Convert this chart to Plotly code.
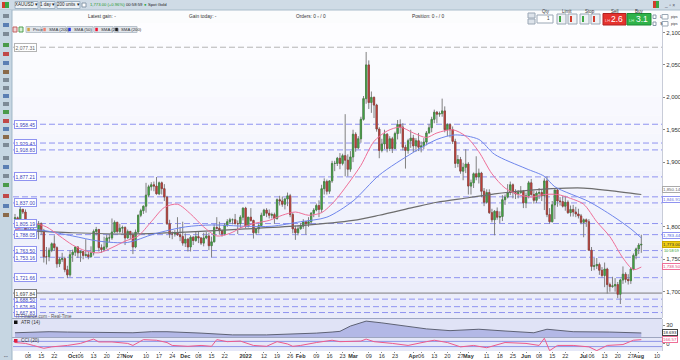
import pandas as pd
import plotly.graph_objects as go
from plotly.subplots import make_subplots

W, H = 680, 360
ML, MR, MT, MB = 13, 18, 23, 9
PW, PH = W - ML - MR, H - MT - MB
FONT = "Liberation Sans"


def px(x):
    return (x - ML) / PW


def py(y):
    return (H - MB - y) / PH


# ---------------- data ----------------
dates = pd.bdate_range("2021-09-01", "2022-08-02")

opens = [
    1813, 1814, 1809, 1827, 1823, 1794, 1788, 1795, 1787, 1794, 1805, 1794, 1754, 1754, 1764, 1774, 1768, 1743, 1750, 1751, 1734, 1726,
    1757, 1761, 1769, 1760, 1762, 1756, 1757, 1754, 1760, 1793, 1796, 1768, 1765, 1769, 1783, 1783, 1792, 1807, 1793, 1798, 1799,
    1783, 1793, 1788, 1769, 1792, 1818, 1825, 1832, 1849, 1862, 1865, 1863, 1851, 1868, 1859, 1846, 1805, 1789, 1789, 1791, 1788, 1785,
    1775, 1781, 1769, 1784, 1779, 1785, 1783, 1775, 1783, 1786, 1771, 1777, 1799, 1798, 1794, 1789, 1803, 1808, 1811, 1811, 1805, 1805, 1815,
    1829, 1801, 1815, 1810, 1791, 1797, 1802, 1818, 1826, 1821, 1818, 1819, 1813, 1842, 1840, 1835, 1843, 1848, 1819, 1797, 1791,
    1797, 1801, 1808, 1805, 1808, 1821, 1826, 1833, 1827, 1859, 1870, 1855, 1871, 1898, 1898, 1906, 1898, 1910, 1903, 1889,
    1908, 1943, 1922, 1936, 1966, 1998, 2050, 1992, 2000, 1988, 1951, 1918, 1928, 1943, 1921, 1936, 1921, 1944, 1958, 1954, 1923, 1918, 1933,
    1937, 1925, 1933, 1923, 1925, 1931, 1945, 1953, 1966, 1977, 1974, 1975, 1979, 1950, 1958, 1950, 1932, 1898, 1904, 1886, 1892,
    1897, 1863, 1868, 1882, 1877, 1883, 1855, 1838, 1853, 1822, 1811, 1824, 1815, 1816, 1842, 1846, 1853, 1865, 1853, 1851, 1853, 1855,
    1837, 1848, 1868, 1850, 1841, 1852, 1853, 1848, 1871, 1819, 1808, 1834, 1857, 1840, 1839, 1832, 1838, 1822, 1827, 1823, 1820, 1817,
    1807, 1811, 1808, 1764, 1739, 1740, 1742, 1733, 1725, 1735, 1711, 1708, 1709, 1711, 1696, 1718, 1727, 1719, 1717, 1735, 1756,
    1766, 1772,
]
highs = [
    1820, 1816, 1834, 1828, 1827, 1800, 1800, 1804, 1795, 1809, 1807, 1797, 1769, 1768, 1776, 1787, 1770, 1753, 1760, 1754, 1740, 1764,
    1765, 1770, 1770, 1764, 1763, 1781, 1762, 1770, 1796, 1800, 1797, 1773, 1785, 1788, 1789, 1813, 1810, 1808, 1805, 1802, 1801,
    1796, 1794, 1792, 1796, 1819, 1828, 1833, 1868, 1865, 1869, 1870, 1877, 1870, 1870, 1866, 1848, 1811, 1793, 1795, 1815, 1800, 1808,
    1790, 1783, 1787, 1786, 1792, 1793, 1784, 1791, 1792, 1791, 1785, 1804, 1815, 1808, 1796, 1806, 1812, 1814, 1813, 1820, 1810, 1818, 1830,
    1831, 1815, 1829, 1811, 1798, 1805, 1822, 1828, 1829, 1827, 1822, 1822, 1844, 1848, 1847, 1845, 1853, 1851, 1822, 1802, 1802,
    1806, 1812, 1809, 1815, 1823, 1829, 1836, 1841, 1865, 1875, 1873, 1872, 1902, 1902, 1908, 1914, 1913, 1974, 1912, 1917,
    1950, 1946, 1940, 1970, 2002, 2070, 2057, 2009, 2001, 1990, 1954, 1936, 1950, 1945, 1940, 1939, 1947, 1965, 1966, 1960, 1927, 1936, 1950,
    1942, 1937, 1945, 1932, 1937, 1948, 1959, 1970, 1981, 1979, 1978, 1998, 1986, 1960, 1960, 1955, 1936, 1911, 1908, 1899, 1920,
    1900, 1873, 1884, 1909, 1890, 1885, 1860, 1858, 1858, 1828, 1826, 1830, 1824, 1849, 1850, 1866, 1870, 1867, 1858, 1857, 1863, 1857,
    1853, 1871, 1874, 1856, 1855, 1860, 1858, 1875, 1878, 1829, 1840, 1857, 1860, 1846, 1847, 1848, 1841, 1833, 1834, 1831, 1828, 1820,
    1813, 1813, 1812, 1769, 1752, 1752, 1745, 1738, 1745, 1737, 1714, 1723, 1721, 1715, 1720, 1739, 1730, 1727, 1738, 1759, 1768,
    1775, 1788,
]
lows = [
    1808, 1805, 1806, 1820, 1791, 1782, 1786, 1785, 1782, 1781, 1788, 1745, 1742, 1747, 1761, 1763, 1737, 1738, 1746, 1730, 1721, 1723,
    1746, 1755, 1752, 1746, 1750, 1754, 1750, 1753, 1756, 1787, 1762, 1760, 1763, 1766, 1776, 1780, 1791, 1790, 1790, 1790, 1772,
    1782, 1781, 1758, 1767, 1790, 1815, 1820, 1822, 1846, 1856, 1855, 1850, 1849, 1850, 1840, 1803, 1783, 1781, 1785, 1786, 1778, 1771,
    1769, 1762, 1762, 1772, 1777, 1775, 1772, 1770, 1781, 1764, 1753, 1776, 1796, 1788, 1785, 1787, 1800, 1805, 1804, 1804, 1789, 1798, 1810,
    1798, 1799, 1808, 1782, 1788, 1790, 1800, 1817, 1815, 1813, 1813, 1805, 1811, 1833, 1831, 1827, 1832, 1815, 1790, 1780, 1787,
    1796, 1797, 1788, 1800, 1805, 1815, 1824, 1815, 1822, 1850, 1850, 1851, 1868, 1886, 1894, 1889, 1895, 1878, 1878, 1885,
    1900, 1916, 1920, 1930, 1964, 1990, 1982, 1976, 1968, 1947, 1906, 1915, 1920, 1915, 1917, 1914, 1920, 1935, 1944, 1918, 1890, 1913, 1922,
    1915, 1916, 1917, 1915, 1920, 1926, 1944, 1946, 1960, 1960, 1970, 1970, 1946, 1940, 1938, 1928, 1891, 1892, 1882, 1872, 1883,
    1850, 1850, 1860, 1872, 1867, 1846, 1832, 1836, 1820, 1807, 1787, 1811, 1806, 1809, 1834, 1844, 1849, 1844, 1843, 1844, 1851, 1829,
    1829, 1844, 1848, 1836, 1837, 1843, 1840, 1826, 1815, 1805, 1807, 1812, 1831, 1833, 1830, 1825, 1820, 1816, 1816, 1815, 1813, 1804,
    1784, 1800, 1764, 1732, 1733, 1735, 1726, 1722, 1707, 1697, 1700, 1706, 1700, 1690, 1681, 1712, 1714, 1711, 1712, 1733, 1750,
    1758, 1760,
]
closes = [
    1814, 1809, 1827, 1823, 1794, 1788, 1795, 1787, 1794, 1805, 1794, 1754, 1754, 1764, 1774, 1768, 1743, 1750, 1751, 1734, 1726, 1757,
    1761, 1769, 1760, 1762, 1756, 1757, 1754, 1760, 1793, 1796, 1768, 1765, 1769, 1783, 1783, 1792, 1807, 1793, 1798, 1799, 1783,
    1793, 1788, 1769, 1792, 1818, 1825, 1832, 1849, 1862, 1865, 1863, 1851, 1868, 1859, 1846, 1805, 1789, 1789, 1791, 1788, 1785, 1775,
    1781, 1769, 1784, 1779, 1785, 1783, 1775, 1783, 1786, 1771, 1777, 1799, 1798, 1794, 1789, 1803, 1808, 1811, 1811, 1805, 1805, 1815, 1829,
    1801, 1815, 1810, 1791, 1797, 1802, 1818, 1826, 1821, 1818, 1819, 1813, 1842, 1840, 1835, 1843, 1848, 1819, 1797, 1791, 1797,
    1801, 1808, 1805, 1808, 1821, 1826, 1833, 1827, 1859, 1870, 1855, 1871, 1898, 1898, 1906, 1898, 1910, 1903, 1889, 1908,
    1943, 1922, 1936, 1966, 1998, 2050, 1992, 2000, 1988, 1951, 1918, 1928, 1943, 1921, 1936, 1921, 1944, 1958, 1954, 1923, 1918, 1933, 1937,
    1925, 1933, 1923, 1925, 1931, 1945, 1953, 1966, 1977, 1974, 1975, 1979, 1950, 1958, 1950, 1932, 1898, 1904, 1886, 1892, 1897,
    1863, 1868, 1882, 1877, 1883, 1855, 1838, 1853, 1822, 1811, 1824, 1815, 1816, 1842, 1846, 1853, 1865, 1853, 1851, 1853, 1855, 1837,
    1848, 1868, 1850, 1841, 1852, 1853, 1848, 1871, 1819, 1808, 1834, 1857, 1840, 1839, 1832, 1838, 1822, 1827, 1823, 1820, 1817, 1807,
    1811, 1808, 1764, 1739, 1740, 1742, 1733, 1725, 1735, 1711, 1708, 1709, 1711, 1696, 1718, 1727, 1719, 1717, 1735, 1756, 1766,
    1772, 1773,
]
assert len(opens) == len(highs) == len(lows) == len(closes) == len(dates), (len(opens), len(highs), len(lows), len(closes), len(dates))

sma200_dates = ["2021-09-01", "2021-10-01", "2021-11-01", "2021-12-01", "2022-01-03", "2022-02-01", "2022-03-01", "2022-03-15",
                "2022-04-01", "2022-04-14", "2022-05-02", "2022-05-16", "2022-06-01", "2022-06-15", "2022-07-01", "2022-07-15", "2022-08-02"]
sma200_vals = [1795, 1791, 1789, 1792, 1797, 1802, 1810, 1818, 1830, 1838, 1845, 1851, 1856, 1859, 1860, 1856, 1850]

sma50_dates = ["2021-09-01", "2021-09-15", "2021-10-01", "2021-10-15", "2021-11-01", "2021-11-15", "2021-12-01", "2021-12-15",
               "2022-01-03", "2022-01-17", "2022-02-01", "2022-02-15", "2022-03-01", "2022-03-15", "2022-04-01", "2022-04-14",
               "2022-04-25", "2022-05-06", "2022-05-16", "2022-06-01", "2022-06-10", "2022-06-16", "2022-07-05", "2022-07-18",
               "2022-07-27", "2022-08-02"]
sma50_vals = [1797, 1795, 1786, 1778, 1776, 1789, 1800, 1803, 1801, 1801, 1808, 1815, 1840, 1880, 1915, 1935, 1942, 1935, 1912,
              1890, 1878, 1862, 1839, 1817, 1797, 1783]

sma20_dates = ["2021-09-01", "2021-09-10", "2021-09-17", "2021-09-24", "2021-10-01", "2021-10-08", "2021-10-15", "2021-10-22",
               "2021-10-29", "2021-11-05", "2021-11-12", "2021-11-19", "2021-11-26", "2021-12-03", "2021-12-10", "2021-12-17",
               "2021-12-24", "2021-12-31", "2022-01-07", "2022-01-14", "2022-01-21", "2022-01-28", "2022-02-04", "2022-02-11",
               "2022-02-18", "2022-02-25", "2022-03-04", "2022-03-11", "2022-03-18", "2022-03-25", "2022-04-01", "2022-04-08",
               "2022-04-14", "2022-04-22", "2022-04-29", "2022-05-06", "2022-05-13", "2022-05-20", "2022-05-27", "2022-06-03",
               "2022-06-10", "2022-06-17", "2022-06-24", "2022-07-01", "2022-07-08", "2022-07-15", "2022-07-22", "2022-07-28",
               "2022-08-02"]
sma20_vals = [1795, 1805, 1800, 1786, 1772, 1763, 1760, 1768, 1778, 1786, 1808, 1830, 1835, 1820, 1800, 1786, 1790, 1800, 1806,
              1810, 1818, 1823, 1818, 1822, 1840, 1866, 1895, 1932, 1948, 1954, 1945, 1938, 1945, 1950, 1940, 1916, 1882, 1860,
              1850, 1846, 1850, 1850, 1844, 1835, 1808, 1785, 1752, 1734, 1738]

atr_dates = ["2021-09-01", "2021-09-10", "2021-09-20", "2021-09-29", "2021-10-15", "2021-11-03", "2021-11-12", "2021-11-22",
             "2021-12-09", "2021-12-27", "2022-01-13", "2022-01-21", "2022-02-09", "2022-02-17", "2022-02-22", "2022-02-28",
             "2022-03-08", "2022-03-16", "2022-03-30", "2022-04-08", "2022-04-21", "2022-05-06", "2022-05-20", "2022-06-06",
             "2022-06-13", "2022-06-27", "2022-07-15", "2022-08-02"]
atr_vals = [19.0, 20.0, 20.5, 20.0, 20.0, 19.0, 20.5, 20.5, 18.5, 16.0, 16.0, 16.5, 18.5, 20.0, 21.0, 28.5, 35.5, 33.0, 28.5,
            24.5, 22.0, 24.0, 21.5, 19.0, 24.0, 20.5, 20.0, 18.7]

cci_dates = ["2021-09-01", "2021-09-07", "2021-09-10", "2021-09-16", "2021-09-21", "2021-09-29", "2021-10-06", "2021-10-13",
             "2021-10-15", "2021-10-22", "2021-11-01", "2021-11-03", "2021-11-09", "2021-11-16", "2021-11-22", "2021-11-24",
             "2021-12-02", "2021-12-09", "2021-12-15", "2021-12-17", "2021-12-23", "2021-12-30", "2022-01-06", "2022-01-13",
             "2022-01-19", "2022-01-25", "2022-01-27", "2022-02-01", "2022-02-09", "2022-02-17", "2022-02-22", "2022-03-04",
             "2022-03-08", "2022-03-11", "2022-03-22", "2022-03-30", "2022-04-08", "2022-04-13", "2022-04-20", "2022-04-27",
             "2022-05-04", "2022-05-11", "2022-05-20", "2022-06-01", "2022-06-08", "2022-06-10", "2022-06-14", "2022-06-17",
             "2022-06-27", "2022-07-05", "2022-07-08", "2022-07-14", "2022-07-22", "2022-07-28", "2022-08-02"]
cci_vals = [56, 22, -56, -167, -111, -56, 22, 189, 78, 78, 22, -56, 167, 144, 56, -56, -89, -56, -89, 167, 89, 111, -56, -89,
            89, 0, -89, -56, 56, 144, 89, 111, 189, 89, 22, -56, 89, 144, 56, -111, -56, -144, 56, 22, -56, 222, -256, -56,
            -56, -111, -256, -56, -22, 144, 167]

# horizontal marker lines (level, label)
hline_levels = [1958.45, 1929.43, 1918.83, 1877.21, 1846.40, 1837.00, 1805.19, 1788.05, 1763.50, 1753.16, 1721.66,
                1688.50, 1676.89, 1667.83]
hline_labels = ["1,958.45", "1,929.43", "1,918.83", "1,877.21", "", "1,837.00", "1,805.19", "1,788.05", "1,763.50",
                "1,753.16", "1,721.66", "1,688.50", "1,676.89", "1,667.83"]
top_level, top_label = 2077.31, "2,077.31"
support_level, support_label = 1697.84, "1,697.84"

price_ticks = [1700, 1750, 1800, 1900, 1950, 2000, 2050, 2100]
price_ticktext = ["1,700", "1,750", "1,800", "1,900", "1,950", "2,000", "2,050", "2,100"]

tick_dates = ["2021-09-08", "2021-09-15", "2021-09-22", "2021-10-01", "2021-10-06", "2021-10-13", "2021-10-20", "2021-10-27",
              "2021-11-01", "2021-11-10", "2021-11-17", "2021-11-24", "2021-12-01", "2021-12-08", "2021-12-15", "2021-12-22",
              "2022-01-03", "2022-01-12", "2022-01-19", "2022-01-26", "2022-02-01", "2022-02-09", "2022-02-16", "2022-02-23",
              "2022-03-01", "2022-03-09", "2022-03-16", "2022-03-23", "2022-04-01", "2022-04-06", "2022-04-13", "2022-04-20",
              "2022-04-27", "2022-05-02", "2022-05-11", "2022-05-18", "2022-05-25", "2022-06-01", "2022-06-08", "2022-06-15",
              "2022-06-22", "2022-07-01", "2022-07-06", "2022-07-13", "2022-07-20", "2022-07-27", "2022-08-01", "2022-08-10"]
tick_labels = ["08", "15", "22", "<b>Oct</b>", "06", "13", "20", "27", "<b>Nov</b>", "10", "17", "24", "<b>Dec</b>", "08", "15",
               "22", "<b>2022</b>", "12", "19", "26", "<b>Feb</b>", "09", "16", "23", "<b>Mar</b>", "09", "16", "23",
               "<b>Apr</b>", "06", "13", "20", "27", "<b>May</b>", "11", "18", "25", "<b>Jun</b>", "08", "15", "22",
               "<b>Jul</b>", "06", "13", "20", "27", "<b>Aug</b>", "10"]

x_range = ["2021-08-31 05:45", "2022-08-11 21:30"]
price_range = [1659.4, 2114.7]
atr_range = [13.0, 38.5]
cci_range = [-270, 230]

# ---------------- figure ----------------
fig = make_subplots(rows=3, cols=1, shared_xaxes=True, vertical_spacing=0)

body_hi = [max(o, c) for o, c in zip(opens, closes)]
body_lo = [min(o, c) for o, c in zip(opens, closes)]

fig.add_trace(go.Candlestick(
    x=dates, open=opens, high=highs, low=lows, close=closes, whiskerwidth=0,
    increasing=dict(line=dict(color="#808080", width=1), fillcolor="#808080"),
    decreasing=dict(line=dict(color="#808080", width=1), fillcolor="#808080"),
    hoverinfo="skip", showlegend=False), row=1, col=1)
fig.add_trace(go.Candlestick(
    x=dates, open=opens, high=body_hi, low=body_lo, close=closes, whiskerwidth=0,
    increasing=dict(line=dict(color="#3f7f3a", width=0.6), fillcolor="#43b649"),
    decreasing=dict(line=dict(color="#8e3a36", width=0.6), fillcolor="#d9413b"),
    hoverinfo="skip", showlegend=False), row=1, col=1)

fig.add_trace(go.Scatter(x=sma200_dates, y=sma200_vals, mode="lines", line=dict(color="#6d6d6d", width=1.2, shape="spline", smoothing=0.8),
                         hoverinfo="skip", showlegend=False), row=1, col=1)
fig.add_trace(go.Scatter(x=sma50_dates, y=sma50_vals, mode="lines", line=dict(color="#6f86ec", width=1, shape="spline", smoothing=0.8),
                         hoverinfo="skip", showlegend=False), row=1, col=1)
fig.add_trace(go.Scatter(x=sma20_dates, y=sma20_vals, mode="lines", line=dict(color="#ef6f98", width=1, shape="spline", smoothing=0.8),
                         hoverinfo="skip", showlegend=False), row=1, col=1)

fig.add_trace(go.Scatter(x=atr_dates, y=atr_vals, mode="lines", fill="tozeroy", fillcolor="#b3b8e6",
                         line=dict(color="#5e6275", width=1), hoverinfo="skip", showlegend=False), row=2, col=1)
fig.add_trace(go.Scatter(x=cci_dates, y=cci_vals, mode="lines", line=dict(color="#ef5a8c", width=1),
                         hoverinfo="skip", showlegend=False), row=3, col=1)

for i in (1, 2, 3):
    fig.update_xaxes(row=i, col=1, rangebreaks=[dict(bounds=["sat", "mon"])], range=x_range, showgrid=False,
                     zeroline=False, rangeslider_visible=False, showline=False, automargin=False)
fig.update_xaxes(row=3, col=1, tickmode="array", tickvals=tick_dates, ticktext=tick_labels, ticks="outside", ticklen=1,
                 tickcolor="#888", tickfont=dict(size=5.5, color="#333", family=FONT), showticklabels=True,
                 tickangle=0, ticklabelstandoff=-2)

yax_common = dict(side="right", showgrid=False, zeroline=False, ticks="outside", ticklen=2, tickcolor="#888",
                  tickfont=dict(size=6, color="#333", family=FONT), showline=True, linecolor="#c8ccd8", automargin=False)
fig.update_yaxes(row=1, col=1, range=price_range, tickvals=price_ticks, ticktext=price_ticktext, **yax_common)
fig.update_yaxes(row=2, col=1, range=atr_range, tickvals=[30], ticktext=["30"], **yax_common)
fig.update_yaxes(row=3, col=1, range=cci_range, tickvals=[0], ticktext=["0"], **yax_common)

fig.update_layout(yaxis=dict(domain=[py(318), 1.0]), yaxis2=dict(domain=[py(337), py(319)]),
                  yaxis3=dict(domain=[0.0, py(338)]))

shapes = []
annots = []

# price panel gradient background
nb = 16
top_c, bot_c = (253, 253, 255), (234, 236, 250)
for k in range(nb):
    t = k / (nb - 1)
    c = tuple(round(top_c[j] + (bot_c[j] - top_c[j]) * t) for j in range(3))
    y0 = 23 + (318 - 23) * k / nb
    y1 = 23 + (318 - 23) * (k + 1) / nb
    shapes.append(dict(type="rect", xref="paper", yref="paper", x0=0, x1=1, y0=py(y1), y1=py(y0),
                       fillcolor="rgb(%d,%d,%d)" % c, line=dict(width=0), layer="below"))
# indicator panel backgrounds
shapes.append(dict(type="rect", xref="paper", yref="paper", x0=0, x1=1, y0=py(337), y1=py(319),
                   fillcolor="#e0e3f6", line=dict(width=0), layer="below"))
shapes.append(dict(type="rect", xref="paper", yref="paper", x0=0, x1=1, y0=0, y1=py(338),
                   fillcolor="#e6e8f8", line=dict(width=0), layer="below"))
for yy in (318.5, 337.5):
    shapes.append(dict(type="line", xref="paper", yref="paper", x0=px(12), x1=1.0, y0=py(yy), y1=py(yy),
                       line=dict(color="#9ea6c0", width=1)))
# CCI +/-100 lines
for lv in (100, -100):
    shapes.append(dict(type="line", xref="paper", yref="y3", x0=0, x1=1, y0=lv, y1=lv,
                       line=dict(color="#8f95e6", width=1), layer="below"))

# dashed levels
for lv, lb in zip(hline_levels, hline_labels):
    shapes.append(dict(type="line", xref="paper", yref="y", x0=0, x1=1, y0=lv, y1=lv,
                       line=dict(color="#8f93f0", width=1, dash="6px,3px"), layer="below"))
    if lb:
        annots.append(dict(xref="paper", yref="y", x=px(13.5), y=lv, text=lb, showarrow=False, xanchor="left",
                           font=dict(size=5, color="#3a3fb8", family=FONT), bgcolor="white", bordercolor="#8f93f0",
                           borderwidth=1, borderpad=0.5))
shapes.append(dict(type="line", xref="paper", yref="y", x0=0, x1=1, y0=top_level, y1=top_level,
                   line=dict(color="#b4b4b4", width=1, dash="6px,3px"), layer="below"))
annots.append(dict(xref="paper", yref="y", x=px(13.5), y=top_level, text=top_label, showarrow=False, xanchor="left",
                   font=dict(size=5, color="#666", family=FONT), bgcolor="white", bordercolor="#b4b4b4",
                   borderwidth=1, borderpad=0.5))
shapes.append(dict(type="line", xref="paper", yref="y", x0=0, x1=1, y0=support_level, y1=support_level,
                   line=dict(color="#7d7d7d", width=1), layer="below"))
annots.append(dict(xref="paper", yref="y", x=px(13.5), y=support_level, text=support_label, showarrow=False,
                   xanchor="left", font=dict(size=5, color="#444", family=FONT), bgcolor="white",
                   bordercolor="#7d7d7d", borderwidth=1, borderpad=0.5))

# right-hand value labels
right_labels = [
    ("y", 1858.0, "1,850.14", "#666", "white", "#aaa"),
    ("y", 1843.0, "1,846.91", "#6a6ee0", "white", "#8f93f0"),
    ("y", 1786.0, "1,783.44", "#4a5ee0", "white", "#8f93f0"),
    ("y", 1773.0, "1,773.00", "#333", "#f2cf12", "#c8a800"),
    ("y", 1738.5, "1,738.50", "#e04a7a", "white", "#ef6f98"),
    ("y2", 18.693, "18.693", "#222", "white", "#444"),
    ("y3", 166.57, "166.57", "#e04a7a", "white", "#ef6f98"),
]
for yr, v, t, fc, bg, bc in right_labels:
    annots.append(dict(xref="paper", yref=yr, x=1.0, y=v, text=t, showarrow=False, xanchor="left", xshift=0,
                       font=dict(size=4.4, color=fc, family=FONT), bgcolor=bg, bordercolor=bc, borderwidth=1,
                       borderpad=0))
annots.append(dict(xref="paper", yref="y", x=1.0, y=1763.0, text="10:58:59", showarrow=False, xanchor="left",
                   xshift=0, font=dict(size=3.8, color="#2a9a2a", family=FONT)))


# ---------------- chrome (toolbars) ----------------
def rect(x0, y0, x1, y1, fill, line=None, lw=0):
    shapes.append(dict(type="rect", xref="paper", yref="paper", x0=px(x0), x1=px(x1), y0=py(y1), y1=py(y0),
                       fillcolor=fill, line=dict(color=line or fill, width=lw)))


def text(x, y, s, color="#333", size=5.5, anchor="left", bold=False, bg=None):
    a = dict(xref="paper", yref="paper", x=px(x), y=py(y), text=("<b>%s</b>" % s) if bold else s, showarrow=False,
             xanchor=anchor, yanchor="middle", font=dict(size=size, color=color, family=FONT))
    if bg:
        a["bgcolor"] = bg
    annots.append(a)


rect(0, 0, 680, 10, "#cfdbe6", "#a9bccb", 0)
rect(0, 10, 680, 23, "#fbfcfd")
shapes.append(dict(type="line", xref="paper", yref="paper", x0=px(0), x1=px(680), y0=py(10), y1=py(10),
                   line=dict(color="#a9bccb", width=1)))
rect(0, 10, 12, 360, "#c6d6e2")
shapes.append(dict(type="line", xref="paper", yref="paper", x0=px(12), x1=px(12), y0=py(360), y1=py(10),
                   line=dict(color="#9fb5c6", width=1)))
# top bar items
rect(2, 2, 5, 8, "#d23c2c")
rect(5, 2, 9, 8, "#37a843")
for x0, x1, s in ((15, 38, "XAUUSD \u25be"), (40, 55, "1 day \u25be"), (57, 80, "200 units \u25be")):
    rect(x0, 1.5, x1, 8.5, "#eef3f7", "#9fb3c4", 1)
    text((x0 + x1) / 2, 5, s, "#222", 4.5, "center")
rect(82, 3, 86, 7, "white", "#8899aa", 1)
text(88, 5, "1,773.00 (+0.96%)", "#1f9a2a", 4.2)
text(124, 5, "00:58:59", "#222", 4.2)
text(142, 5, "\u25cf", "#2aa83a", 4.2)
text(146, 5, "Spot Gold", "#222", 4.2)
rect(653, 1, 656, 8, "#d23c2c")
rect(656, 1, 659, 8, "#37a843")
text(669, 4.5, "_ \u25ab \u00d7", "#556", 5, "center")
# second row
text(102, 17, "Latest gain: -", "#333", 4.8, "center")
text(203, 17, "Gain today: -", "#333", 4.8, "center")
text(311, 17, "Orders: 0 \u25ab / 0", "#333", 4.8, "center")
text(428, 17, "Position: 0 \u25ab / 0", "#333", 4.8, "center")
# deal ticket
rect(528, 13, 535, 18, "#dde3ea", "#9aa7b5", 1)
rect(528, 19, 535, 24, "#dde3ea", "#9aa7b5", 1)
text(546, 11.7, "Qty", "#333", 4.5, "center")
rect(537, 15, 553, 23, "white", "#9aa7b5", 1)
text(552, 19, "1", "#333", 4.5, "right")
text(567, 11.7, "Limit", "#333", 4.5, "center")
text(590, 11.7, "Stop", "#333", 4.5, "center")
for x0 in (557, 568, 580, 591):
    rect(x0, 14, x0 + 9, 24, "#eef1f4", "#9aa7b5", 1)
    rect(x0 + 2, 16, x0 + 4, 22, "#3fa845" if x0 in (557, 580) else "#d23c2c")
text(615, 11.7, "Sell", "#333", 4.5, "center")
text(639, 11.7, "Buy", "#333", 4.5, "center")
rect(603, 13.5, 626, 25, "#e5332e", "#b02020", 1)
rect(627, 13.5, 651, 25, "#2fb24a", "#1d8a35", 1)
text(607, 20, "LH", "#ffd0d0", 4, "center")
text(617, 19.5, "2.6", "white", 8.5, "center")
text(631, 20, "LH", "#d0ffd0", 4, "center")
text(642, 19.5, "3.1", "white", 8.5, "center")
rect(653, 15, 656, 18.5, "white", "#8899aa", 1)
rect(653, 22, 656, 25.5, "white", "#8899aa", 1)
text(657.5, 16.8, "L", "#333", 4)
text(657.5, 23.8, "S", "#333", 4)
rect(662, 14.5, 668, 19, "white", "#9aa7b5", 1)
rect(662, 21.5, 668, 26, "white", "#9aa7b5", 1)
text(669, 16.8, "pips", "#333", 3.6)
text(669, 23.8, "pips", "#333", 3.6)
# legend row
rect(13, 27, 17, 32, "#f3d6d6", "#c06060", 1)
rect(19, 27, 23, 32, "#d6f0d6", "#50a050", 1)
for x0, x1, col, s in ((26, 41, "#d4a040", "Price"), (42, 66, "#f08070", "SMA (200)"), (67, 93, "#2030f0", "SMA (50)"),
                       (94, 113, "#f01030", "SMA (20)"), (114, 137, "#111111", "SMA (200)")):
    rect(x0, 26.5, x1, 32.5, "#dfe4ea", "#b8c2cc", 1)
    rect(x0 + 1.3, 27.8, x0 + 3.8, 31.2, col)
    text(x0 + 4.5, 29.6, s, "#333", 4.3)
# left toolbar icons
icon_cols = ["#7d8a96", "#5b7fb3", "#7d8a96", "#4a9a4a", "#c04848", "#5b7fb3", "#8a6a4a", "#7d8a96"]
icon_y = [16, 25, 34, 45, 54, 63, 72, 80, 88, 96, 104, 112, 121, 129, 137, 145, 158, 167, 176, 185, 196, 206, 215]
for k, yy in enumerate(icon_y):
    rect(3, yy - 2, 9, yy + 2, icon_cols[k % len(icon_cols)])
text(6, 355.5, "\u21d4", "#445", 6, "center")
# indicator captions
text(14, 316.3, "IT-Finance.com - Real-Time", "#555", 4.5)
rect(14, 320.5, 17.5, 324, "#111")
text(19, 322.3, "ATR (14)", "#333", 4.8)
rect(14, 339, 17.5, 342.5, "#e02040")
text(19, 340.8, "CCI (20)", "#333", 4.8)

fig.update_layout(width=W, height=H, margin=dict(l=ML, r=MR, t=MT, b=MB, autoexpand=False), paper_bgcolor="white",
                  plot_bgcolor="white", showlegend=False, font=dict(family=FONT, size=6, color="#333"),
                  shapes=shapes, annotations=annots, hovermode=False)

fig.write_html("out.html", config={"displayModeBar": False})
